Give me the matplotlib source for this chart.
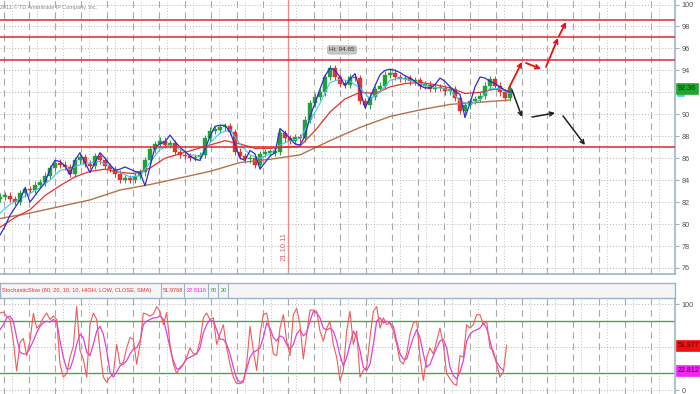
import numpy as np
import matplotlib
matplotlib.use('Agg')
import matplotlib.pyplot as plt
from matplotlib import transforms

plt.rcParams['font.family'] = ['Liberation Sans', 'DejaVu Sans']

# ---------------- data ----------------
close = [82.5, 82.6, 82.3, 82.0, 82.8, 83.2, 83.1, 83.6, 83.8, 84.4,
         85.1, 85.6, 85.4, 85.2, 84.6, 85.8, 86.1, 85.5, 85.3, 86.2,
         85.8, 85.3, 85.0, 84.6, 84.0, 84.2, 84.0, 84.4, 84.7, 85.8,
         86.8, 87.3, 87.6, 87.2, 87.4, 86.6, 86.3, 86.2, 86.0, 86.1,
         86.3, 87.8, 88.5, 88.6, 88.8, 88.9, 88.4, 86.6, 86.2, 85.9,
         86.0, 85.4, 86.4, 86.5, 86.5, 86.6, 88.3, 87.8, 87.6, 87.9,
         87.8, 89.5, 91.0, 91.6, 92.0, 93.4, 94.2, 93.4, 92.8, 92.7,
         93.4, 93.3, 91.2, 90.8, 91.6, 92.3, 92.6, 93.6, 93.8, 93.4,
         93.2, 93.3, 93.0, 93.1, 92.6, 92.7, 92.3, 92.5, 92.4, 92.1,
         92.3, 91.5, 90.3, 90.8, 91.2, 91.4, 91.7, 92.6, 93.2, 92.6,
         92.0, 91.5, 92.4]

# long moving average (one value every 6 bars)
long_ma = [80.5, 81.0, 81.6, 82.2, 83.1, 83.6, 84.2, 84.8, 85.6, 85.9,
           86.3, 87.6, 88.8, 89.8, 90.4, 90.9, 91.1, 91.3]
# medium moving average (one value every 3 bars)
mid_ma = [79.7, 80.6, 81.3, 82.6, 83.5, 84.3, 84.8, 85.0, 84.7, 84.6,
          85.1, 86.0, 86.4, 86.8, 87.2, 87.6, 87.3, 86.9, 86.9, 87.0,
          87.1, 88.5, 90.2, 91.4, 92.0, 91.9, 92.5, 92.8, 92.9, 92.7,
          92.4, 91.9, 92.0, 92.3, 92.1]
# fast moving average (one value every 2 bars)
fast_ma = [81.0, 81.8, 82.3, 82.8, 83.3, 84.0, 84.9, 85.0, 85.4, 85.6,
           85.7, 85.3, 84.7, 84.3, 84.4, 85.6, 86.8, 87.2, 86.8, 86.3,
           86.2, 87.4, 88.3, 88.6, 87.3, 86.3, 86.0, 86.4, 87.2, 87.6,
           87.8, 89.4, 91.0, 92.9, 93.2, 93.0, 92.4, 91.4, 92.0, 93.1,
           93.3, 93.1, 92.8, 92.5, 92.4, 92.2, 91.2, 90.9, 91.3, 92.4,
           92.3, 91.9]
# blue step line (one value per bar)
band_line = [79.0, 79.8, 80.8, 81.5, 82.2, 83.3, 82.0, 82.6, 83.2, 83.8,
             85.0, 85.8, 85.7, 85.3, 84.5, 85.8, 86.5, 85.6, 84.7, 85.6,
             86.5, 86.0, 85.4, 84.9, 85.0, 85.2, 85.0, 84.8, 84.7, 83.5,
             85.2, 87.0, 87.3, 87.5, 88.1, 87.5, 87.0, 86.6, 86.2, 85.9,
             85.8, 86.8, 88.0, 88.9, 89.0, 89.0, 88.4, 87.2, 86.0, 85.8,
             86.7, 86.4, 85.0, 85.6, 86.2, 86.5, 88.7, 88.3, 87.8, 87.3,
             87.2, 88.0, 89.8, 91.0, 92.3, 93.5, 94.2, 94.0, 93.4, 92.6,
             93.2, 93.7, 92.2, 90.6, 91.5, 92.6, 93.6, 94.0, 94.1, 94.0,
             93.8, 93.5, 93.3, 93.0, 92.6, 92.4, 92.4, 92.7, 93.3, 93.0,
             92.5, 92.1, 91.8, 89.7, 91.0, 92.5, 93.4, 93.3, 93.0, 92.8,
             92.5, 92.2, 92.0]

# stochastic %K and %D (three values every two bars)
stoch_k = [89.5, 90.7, 85.7, 82, 57, 22, 55, 60, 40, 57,
           89, 72, 76, 84, 89.5, 82, 86, 82, 30, 15,
           19, 38, 51, 97, 46, 36, 15, 76, 89.5, 82,
           46, 15, 9, 15, 19, 53, 30, 32, 49, 61,
           59, 30, 53, 89.5, 88, 86, 88, 97, 91.5, 76,
           90, 53, 30, 19, 26.5, 30, 38, 49, 42, 42,
           57, 84, 89.5, 82, 84, 53, 65, 76, 49, 30,
           15, 7.4, 7.4, 9, 30,
           74, 45.6, 22.7, 64.7, 87.6, 89.5, 68.5, 42, 40, 72,
           87.6, 57, 40, 87.6, 95, 76, 36, 65, 93, 93,
           91.5, 68.5, 57, 72, 80, 53, 38, 11, 22.7, 68.5,
           91.5, 53, 68.5, 15, 22.7, 26.5, 61, 91.5, 97, 72,
           84, 76, 78, 68.5, 53, 34, 30, 42, 65, 78,
           80, 38, 11, 38, 49, 42, 57, 72, 53, 19,
           13, 7.4, 5.5, 40, 38, 76, 72, 76, 87.6, 87.6,
           76, 80, 49, 45.6, 30, 15, 21, 52]
stoch_d = [70, 76, 84, 86, 80, 61, 44, 42, 42, 49,
           57, 66.6, 74, 78, 80, 79, 82, 80, 57, 38,
           24.6, 24.6, 36, 53, 65, 61, 44, 40, 53, 68.5,
           74, 65, 46, 21, 15, 21, 28, 30, 34, 42,
           47.5, 49, 57, 76, 80, 82, 84, 84, 86, 82,
           66.6, 49, 34, 24.6, 24.6, 30, 36, 38, 40, 42,
           49, 66.6, 76, 82, 80, 70, 59, 59, 53, 42,
           26.5, 13, 9, 11, 24.6,
           38, 44, 46, 49, 61, 78, 72, 61, 57, 63,
           61, 53, 47.5, 53, 65, 70, 63, 66.6, 80, 91.5,
           89.5, 84, 72, 70, 72, 68.5, 57, 40, 28, 38,
           53, 68.5, 61, 46, 26.5, 22.7, 30, 53, 80, 84,
           78, 80, 78, 74, 57, 42, 36, 36, 49, 61,
           70, 61, 42, 26.5, 30, 40, 49, 57, 59, 49,
           26.5, 17, 13, 21, 34, 57, 65, 68.5, 70, 72,
           78, 72, 57, 42, 32.4, 26.5, 22.8]

levels = [98.6, 97.05, 94.95, 87.0]
price_ticks = list(range(76, 101, 2))
stoch_ticks = [0, 50, 100]
stoch_levels = [80, 20]
hi_label = 'Hi: 94.65'
hi_bar = 68.4
last_price = '92.36'
last_k = 51.9768
last_d = 22.8116
marker_date = '21.10.11'
marker_bar = 57.6

# scenario arrows: (x0, y0, x1, y1) in bars / price
bull_arrows = [(101.8, 92.40, 104.4, 94.77),
               (105.2, 94.67, 108.2, 94.13),
               (109.2, 94.31, 111.6, 96.95),
               (111.8, 97.13, 113.2, 98.41)]
bear_arrows = [(102.4, 92.21, 104.4, 89.75),
               (106.4, 89.75, 111.0, 90.12),
               (112.6, 89.85, 117.0, 87.20)]

# ---------------- figure ----------------
W, H = 700, 394
fig = plt.figure(figsize=(7.0, 3.94), dpi=100)
AXR = 675 / W
XMAX = 135
frame_c = '#9fb3c8'
grid_c = '#b4b4b4'

main = fig.add_axes([0, 1 - 274 / H, AXR, 274 / H])
stoch = fig.add_axes([0, 0, AXR, 96 / H])
head = fig.add_axes([0, 1 - 298 / H, AXR, 15 / H])

dash_pos = (3.5 + 25.9 * np.arange(26)) / 5.0
dot_pos = (11.5 + 25.9 * np.arange(26)) / 5.0

for ax in (main, stoch):
    ax.set_xlim(0, XMAX)
    ax.set_facecolor('white')
    for x in dash_pos:
        ax.axvline(x, color='#a8a8a8', lw=0.8, ls=(0, (6, 4)), zorder=0)
    for x in dot_pos:
        ax.axvline(x, color='#c4c4c4', lw=0.7, ls=(0, (1, 2)), zorder=0)
    ax.spines['left'].set_visible(False)
    ax.spines['right'].set_color(frame_c)
    ax.spines['right'].set_linewidth(1.2)
    ax.yaxis.tick_right()
    ax.tick_params(axis='y', which='both', length=3, width=0.8, color=frame_c,
                   labelsize=5.2, labelcolor='#505050', pad=1.5)
    ax.set_xticks(dash_pos)
    ax.set_xticklabels([])

# ---- main panel ----
main.set_ylim(75.45, 100.41)
main.spines['top'].set_visible(False)
main.spines['bottom'].set_color(frame_c)
main.spines['bottom'].set_linewidth(1.2)
main.tick_params(axis='x', direction='in', length=3, color=frame_c)
main.set_yticks(price_ticks)
# the label at 92 is hidden behind the last-price box, as in the reference
main.set_yticklabels(['' if t == 92 else str(t) for t in price_ticks])
for t in price_ticks:
    main.axhline(t, color=grid_c, lw=0.7, ls=(0, (1, 2)), zorder=0)

# candles
c = np.array(close)
o = np.concatenate([[c[0] - 0.2], c[:-1]])
bx = np.arange(len(c))
wick = 0.3
hi = np.maximum(o, c) + wick
lo = np.minimum(o, c) - wick
up = c >= o
cols = np.where(up, '#22a03c', '#e0342c')
main.vlines(bx, lo, hi, colors=cols, lw=0.7, zorder=2)
body_h = np.maximum(np.abs(c - o), 0.12)
main.bar(bx, body_h, bottom=np.minimum(o, c), width=0.7, color=cols,
         edgecolor=cols, linewidth=0.3, zorder=3)

# moving averages
main.plot(np.arange(len(long_ma)) * 6, long_ma, color='#b8704c', lw=1.0, zorder=4)
main.plot(np.arange(len(mid_ma)) * 3, mid_ma, color='#e83030', lw=0.9, zorder=4)
main.plot(np.arange(len(fast_ma)) * 2, fast_ma, color='#3cc8e8', lw=0.8, zorder=4)
main.plot(np.arange(len(band_line)), band_line, color='#2c2cd0', lw=0.9, zorder=5)

for lv in levels:
    main.axhline(lv, color='#e02828', lw=1.1, zorder=6)

main.axvline(marker_bar, color='#f08888', lw=0.9, zorder=1)
main.text(marker_bar - 0.8, 78.0, marker_date, rotation=90, ha='center', va='center',
          fontsize=5.5, color='#e06060')

main.text(hi_bar, 95.86, hi_label, ha='center', va='center', fontsize=4.6, color='#303030',
          bbox=dict(boxstyle='round,pad=0.25', fc='#c8c8c8', ec='#b0b0b0', lw=0.5), zorder=7)

main.text(0.0, 99.75, '2011 \u00a9 TD Ameritrade IP Company, Inc.', ha='left', va='center',
          fontsize=4.0, color='#8c8c8c')

for (x0, y0, x1, y1) in bull_arrows:
    main.annotate('', xy=(x1, y1), xytext=(x0, y0),
                  arrowprops=dict(arrowstyle='->', color='#e81010', lw=1.3,
                                  shrinkA=0, shrinkB=0, mutation_scale=7))
for (x0, y0, x1, y1) in bear_arrows:
    main.annotate('', xy=(x1, y1), xytext=(x0, y0),
                  arrowprops=dict(arrowstyle='->', color='#202020', lw=1.1,
                                  shrinkA=0, shrinkB=0, mutation_scale=7))

tr_main = transforms.blended_transform_factory(main.transAxes, main.transData)
main.text(1.004, float(last_price), last_price, transform=tr_main, ha='left', va='center',
          fontsize=5.2, color='#083808', clip_on=False, zorder=10,
          bbox=dict(boxstyle='square,pad=0.3', fc='#1ea82a', ec='#1ea82a', lw=0.5))
main.text(1.004, float(last_price) - 0.5, '       ', transform=tr_main, ha='left', va='center',
          fontsize=2.0, clip_on=False, zorder=9,
          bbox=dict(boxstyle='square,pad=0.2', fc='#40d0f0', ec='#40d0f0', lw=0.5))

# ---- stochastic panel ----
stoch.set_ylim(-4.65, 107.0)
stoch.spines['bottom'].set_visible(False)
stoch.spines['top'].set_color(frame_c)
stoch.spines['top'].set_linewidth(1.2)
stoch.xaxis.tick_top()
stoch.tick_params(axis='x', direction='in', length=3, color=frame_c)
stoch.set_yticks(stoch_ticks)
# the label at 50 is hidden behind the %K box, as in the reference
stoch.set_yticklabels(['' if t == 50 else str(t) for t in stoch_ticks])
for t in stoch_ticks:
    stoch.axhline(t, color=grid_c, lw=0.7, ls=(0, (1, 2)), zorder=0)
for lv in stoch_levels:
    stoch.axhline(lv, color='#48a848', lw=1.0, zorder=1)
stoch.plot(np.arange(len(stoch_d)) * 2 / 3, stoch_d, color='#e040e0', lw=0.9, zorder=3)
stoch.plot(np.arange(len(stoch_k)) * 2 / 3, stoch_k, color='#f05a5a', lw=0.8, zorder=4)

tr_st = transforms.blended_transform_factory(stoch.transAxes, stoch.transData)
stoch.text(1.004, last_k, f'{last_k:.3f}', transform=tr_st, ha='left', va='center',
           fontsize=5.0, color='#600000', clip_on=False, zorder=10,
           bbox=dict(boxstyle='square,pad=0.3', fc='#f01010', ec='#f01010', lw=0.5))
stoch.text(1.004, last_d, f'{last_d:.3f}', transform=tr_st, ha='left', va='center',
           fontsize=5.0, color='#500050', clip_on=False, zorder=10,
           bbox=dict(boxstyle='square,pad=0.3', fc='#f028f0', ec='#f028f0', lw=0.5))

# ---- header bar ----
head.set_xlim(0, 675)
head.set_ylim(0, 1)
head.set_facecolor('#f5f5f5')
head.set_xticks([])
head.set_yticks([])
for s in head.spines.values():
    s.set_color(frame_c)
    s.set_linewidth(1.0)
head.text(2, 0.5, 'StochasticSlow (80, 20, 10, 10, HIGH, LOW, CLOSE, SMA)', ha='left',
          va='center', fontsize=4.05, color='#e03030')
head_vals = [(f'{last_k:.4f}', '#e03030', 172.5), (f'{last_d:.4f}', '#e020e0', 196.5),
             (str(stoch_levels[0]), '#30a030', 213.5), (str(stoch_levels[1]), '#30a030', 223.5)]
for txt, col, xc in head_vals:
    head.text(xc, 0.5, txt, ha='center', va='center', fontsize=4.1, color=col)
for xs in [161, 184, 208, 218, 228]:
    head.axvline(xs, color=frame_c, lw=0.8)

fig.savefig('out.png', dpi=100, facecolor='white')
